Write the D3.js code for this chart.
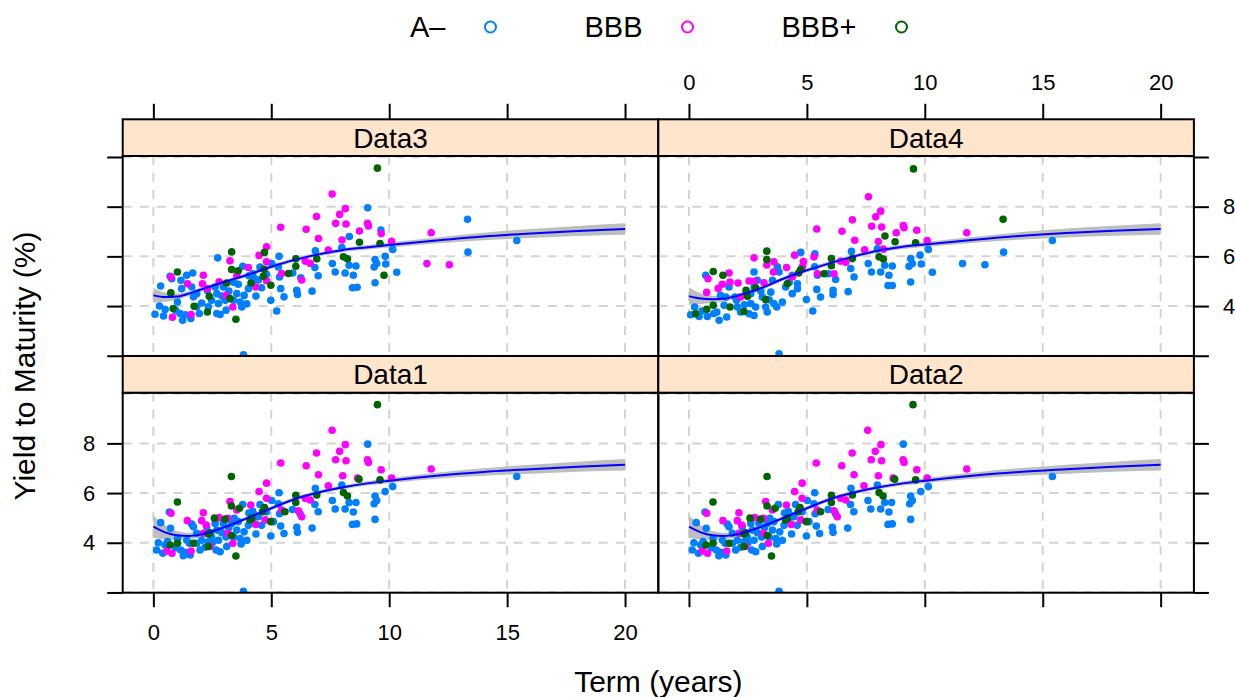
<!DOCTYPE html>
<html>
<head>
<meta charset="utf-8">
<script src="https://cdn.jsdelivr.net/npm/d3@7"></script>
<style>
  body { margin: 0; background: #fff; }
  text { font-family: "Liberation Sans", Arial, Helvetica, sans-serif; fill: #000; }
</style>
</head>
<body>
<svg id="chart" width="1235" height="697"></svg>
<script>
// ---- data: [term (years), yield (%)] ----
var groups = ["A\u2013", "BBB", "BBB+"];
var groupColors = ["#0080ff", "#ff00ff", "#006400"];

var data12_A = [[9.09,7.97],[3.82,2.05],[0.68,5.24],[0.31,4.81],[0.73,4.58],[1.63,4.75],[1.70,4.64],[1.42,4.10],[1.02,4.17],[0.21,4.00],[0.14,3.71],[0.40,3.58],[0.50,3.91],[1.27,3.48],[1.16,3.71],[1.56,3.51],[1.98,3.71],[1.84,3.98],[2.05,4.10],[2.26,4.64],[2.47,4.23],[2.69,4.51],[2.76,4.10],[2.66,3.71],[2.83,3.64],[3.11,3.85],[3.08,4.23],[3.54,4.51],[3.68,4.17],[3.72,3.95],[3.96,4.10],[3.85,4.44],[3.79,5.54],[4.21,5.27],[4.24,5.01],[4.03,4.70],[4.35,4.35],[4.59,4.70],[4.98,4.27],[5.02,5.70],[5.33,6.01],[5.30,5.57],[5.35,5.17],[5.40,4.67],[5.54,4.37],[6.08,4.62],[6.11,4.42],[5.90,5.34],[6.22,5.17],[6.73,4.59],[6.99,5.25],[6.85,5.54],[6.87,6.19],[7.59,5.70],[7.71,5.36],[7.99,6.32],[8.13,5.36],[8.30,5.62],[8.48,5.24],[8.59,5.62],[8.44,4.74],[8.62,4.76],[9.40,5.88],[9.47,5.70],[9.36,5.57],[9.40,4.94],[9.83,6.06],[10.15,6.26],[15.41,6.67],[1.84,4.38],[1.53,3.98],[2.33,4.04],[3.32,4.78],[3.43,4.98],[4.31,5.11],[5.09,4.85],[4.52,5.54],[2.97,4.78],[2.62,4.78],[3.40,4.23],[2.19,3.82],[2.50,4.00],[0.95,3.80],[1.35,3.62],[2.90,4.40],[3.20,4.60],[3.60,4.85],[4.05,5.20],[4.45,5.05],[4.80,5.25],[0.60,4.05]];
var data12_BBB = [[7.58,8.53],[8.14,7.95],[7.90,7.68],[7.73,7.34],[8.17,7.30],[6.92,7.61],[9.08,7.34],[9.12,7.23],[5.40,7.21],[6.48,7.10],[7.00,6.74],[8.03,6.70],[8.66,6.60],[9.66,6.94],[4.80,6.40],[4.48,6.06],[4.80,5.79],[7.42,6.29],[6.44,5.79],[6.65,5.72],[3.25,5.66],[3.54,5.32],[4.13,5.52],[2.12,5.21],[2.05,4.89],[1.44,4.89],[0.75,5.19],[2.79,5.01],[3.16,4.98],[4.34,4.74],[5.44,5.32],[6.15,5.29],[6.29,5.05],[4.74,4.92],[2.24,4.71],[3.16,4.38],[2.12,4.38],[3.37,3.98],[2.40,3.85],[1.60,3.67],[0.79,3.58],[0.57,3.67],[10.10,6.60],[11.78,6.97]];
var data12_BBBp = [[9.50,9.56],[3.31,6.67],[1.02,5.64],[3.31,5.48],[3.65,5.39],[2.59,4.99],[3.04,4.95],[2.40,4.40],[2.33,4.35],[3.32,4.29],[1.70,3.98],[0.71,3.91],[1.02,3.98],[2.33,3.85],[3.50,3.47],[4.71,5.42],[4.63,5.25],[4.17,4.99],[4.98,4.85],[6.04,5.91],[6.04,5.62],[6.93,5.92],[8.06,6.02],[8.23,5.88],[8.72,6.56],[9.61,6.53],[5.58,5.25],[4.10,4.92]];

var data3_A = [[9.09,7.96],[3.82,2.04],[2.73,5.94],[0.71,5.20],[0.31,4.81],[0.78,5.10],[1.17,5.04],[1.41,5.24],[1.67,5.33],[1.20,4.70],[1.63,4.77],[1.70,4.37],[1.02,4.16],[0.26,4.00],[0.07,3.67],[0.43,3.60],[0.50,3.86],[1.24,3.43],[1.13,3.70],[1.59,3.50],[1.95,3.70],[1.84,3.97],[2.05,4.12],[2.29,4.63],[2.47,4.23],[2.69,4.50],[2.76,4.10],[2.69,3.70],[2.83,3.66],[3.08,3.83],[3.05,4.23],[3.54,4.50],[3.68,4.16],[3.75,3.96],[3.96,4.09],[3.85,4.43],[3.79,5.60],[4.21,5.30],[4.24,5.04],[4.03,4.70],[4.35,4.40],[4.59,4.74],[4.98,4.23],[5.02,5.71],[5.33,6.00],[5.30,5.57],[5.35,5.17],[5.40,4.70],[5.54,4.37],[5.23,3.80],[6.08,4.63],[6.11,4.47],[5.91,5.33],[6.25,5.14],[6.73,4.60],[6.99,5.22],[6.85,5.55],[6.87,6.22],[7.59,5.71],[7.71,5.37],[7.99,6.36],[8.13,5.33],[8.30,5.64],[8.48,5.24],[8.59,5.61],[8.44,4.74],[8.64,4.76],[9.40,5.87],[9.47,5.71],[9.36,5.57],[9.40,4.94],[9.83,6.00],[9.65,7.06],[8.31,6.80],[1.84,4.50],[2.33,3.97],[3.40,4.96],[4.31,5.10],[4.52,5.57],[2.97,4.77],[2.62,4.77],[3.40,4.23],[10.15,6.28],[9.85,5.69],[10.32,5.36],[13.32,7.49],[13.34,6.17],[15.41,6.64],[0.95,3.82],[1.35,3.65],[2.90,4.40],[3.20,4.60],[3.60,4.88],[4.05,5.22],[4.45,5.05],[4.80,5.28]];
var data3_BBB = [[7.58,8.51],[8.14,7.92],[7.90,7.69],[7.73,7.33],[8.17,7.30],[6.92,7.60],[9.08,7.33],[9.12,7.22],[5.40,7.17],[6.48,7.09],[7.00,6.72],[8.00,6.66],[8.74,7.02],[9.66,6.92],[4.80,6.39],[4.48,6.04],[4.80,5.78],[7.42,6.25],[6.65,5.72],[6.44,5.81],[3.25,5.82],[4.03,5.55],[3.54,5.24],[2.12,5.24],[2.08,4.90],[1.45,4.90],[0.75,5.17],[2.79,4.98],[5.44,5.31],[6.29,5.05],[4.80,5.02],[4.34,4.77],[2.29,4.70],[3.08,4.43],[3.37,3.96],[1.60,3.66],[0.81,3.55],[10.10,6.61],[11.78,6.95],[11.60,5.71],[12.55,5.66]];
var data3_BBBp = [[9.50,9.55],[3.32,6.18],[4.71,6.16],[1.02,5.37],[3.32,5.47],[3.60,5.42],[3.11,4.93],[0.74,4.53],[2.37,4.39],[3.25,4.30],[1.73,3.99],[0.84,3.90],[2.29,3.76],[3.50,3.47],[4.69,5.48],[4.66,5.20],[4.14,4.93],[4.98,4.84],[6.04,5.90],[6.04,5.60],[6.93,5.90],[5.73,5.31],[8.06,5.98],[8.23,5.90],[8.74,6.57],[9.61,6.52],[9.78,5.24]];

var data4_A = [[3.82,2.08],[4.74,6.16],[0.71,5.24],[0.07,3.65],[0.43,3.58],[0.24,3.96],[0.78,3.58],[1.28,3.43],[1.18,3.76],[1.60,3.56],[1.49,4.03],[1.34,4.43],[1.70,4.77],[1.56,4.36],[1.95,4.36],[2.05,3.96],[2.19,3.76],[2.02,4.23],[2.62,4.10],[2.55,3.69],[2.76,3.62],[2.83,3.96],[2.62,4.50],[2.76,4.77],[2.90,5.04],[2.76,5.37],[3.11,4.36],[3.25,3.96],[3.32,3.76],[3.60,4.10],[3.72,3.96],[3.96,4.16],[3.47,4.56],[3.54,5.04],[3.75,5.58],[3.82,5.37],[4.10,4.77],[4.38,4.50],[4.60,4.90],[4.60,4.70],[4.38,5.24],[4.98,4.26],[5.25,3.80],[5.34,6.10],[5.33,5.58],[5.45,5.24],[5.42,4.67],[5.58,4.36],[6.11,4.63],[6.11,4.47],[5.91,5.30],[6.22,5.07],[6.75,4.58],[7.00,5.17],[6.86,5.51],[6.89,6.20],[7.60,5.71],[7.74,5.37],[7.99,6.30],[8.13,5.37],[8.30,5.64],[8.48,5.24],[8.62,5.61],[8.44,4.83],[8.62,4.83],[9.40,5.91],[9.47,5.71],[9.33,5.60],[9.40,4.97],[9.80,6.05],[10.15,6.28],[9.85,5.69],[10.32,5.36],[11.60,5.71],[12.55,5.66],[13.34,6.17],[15.41,6.64],[0.55,3.80],[1.05,3.70],[2.35,4.05],[3.05,4.60],[3.40,4.25],[4.25,4.95]];
var data4_BBB = [[7.61,8.40],[8.13,7.82],[7.92,7.59],[7.75,7.21],[8.17,7.18],[6.93,7.47],[9.12,7.15],[9.09,7.24],[5.42,7.10],[6.49,7.01],[7.03,6.65],[8.03,6.60],[8.79,6.95],[9.66,7.05],[2.76,5.94],[4.48,6.05],[4.85,5.79],[5.30,5.98],[7.45,6.26],[6.65,5.76],[6.43,5.81],[3.30,5.65],[3.60,5.78],[4.14,5.55],[3.58,5.37],[1.70,5.33],[1.74,4.97],[1.41,4.88],[2.08,4.93],[1.24,4.71],[0.81,5.10],[0.75,4.55],[2.55,5.01],[3.18,4.94],[5.45,5.30],[6.15,5.30],[4.38,5.17],[4.81,5.58],[2.19,4.36],[2.76,5.00],[8.24,6.29],[10.10,6.64],[11.78,6.95]];
var data4_BBBp = [[9.52,9.52],[3.30,6.21],[3.30,5.87],[1.03,5.39],[1.44,5.24],[2.83,4.74],[2.42,4.63],[4.74,5.47],[4.65,5.33],[4.17,4.90],[3.25,4.26],[1.74,3.96],[1.03,4.03],[0.75,3.87],[0.28,3.69],[2.33,3.78],[2.48,4.39],[6.04,5.91],[6.04,5.62],[6.93,5.91],[5.73,5.30],[8.31,6.82],[8.06,5.98],[8.24,5.89],[8.74,6.59],[9.61,6.55],[13.32,7.49]];

// smoother (fit and half-width of band)
var smoothTerms = [0, 0.5, 1, 1.5, 2, 3, 4, 5, 6, 7, 8, 9, 10, 12, 14, 16, 18, 20];
var fit12  = [4.65, 4.42, 4.30, 4.27, 4.33, 4.62, 5.00, 5.39, 5.76, 6.02, 6.22, 6.38, 6.50, 6.70, 6.85, 6.96, 7.06, 7.14];
var band12 = [0.45, 0.28, 0.17, 0.13, 0.11, 0.09, 0.08, 0.08, 0.08, 0.08, 0.08, 0.09, 0.10, 0.12, 0.15, 0.18, 0.20, 0.23];
var fit3   = [4.43, 4.36, 4.38, 4.50, 4.66, 4.97, 5.26, 5.58, 5.86, 6.08, 6.25, 6.36, 6.46, 6.64, 6.80, 6.92, 7.02, 7.10];
var band3  = [0.30, 0.19, 0.13, 0.10, 0.09, 0.08, 0.08, 0.08, 0.08, 0.08, 0.08, 0.09, 0.10, 0.12, 0.15, 0.18, 0.20, 0.23];
var fit4   = [4.40, 4.30, 4.27, 4.30, 4.40, 4.70, 5.10, 5.44, 5.73, 6.00, 6.23, 6.38, 6.48, 6.66, 6.82, 6.94, 7.03, 7.10];
var band4  = [0.35, 0.22, 0.15, 0.12, 0.10, 0.09, 0.08, 0.08, 0.08, 0.08, 0.08, 0.09, 0.10, 0.12, 0.15, 0.18, 0.20, 0.23];

var xTicks = [0, 5, 10, 15, 20];
var yTicks = [2, 4, 6, 8, 10];
var yLabelled = [4, 6, 8];

// ---- layout ----
var svg = d3.select("#chart");
var left0 = 122.7, panelW = 535.6, panelH = 200, stripH = 36.7;
var stripTops = [119.3, 356];
var xLim = [-1.3, 21.41], yLim = [1.99, 10.04];

var x = d3.scaleLinear().domain(xLim).range([0, panelW]);
var y = d3.scaleLinear().domain(yLim).range([panelH, 0]);

var panels = [
  {name: "Data3", col: 0, row: 0, pts: [data3_A, data3_BBB, data3_BBBp], fit: fit3, band: band3},
  {name: "Data4", col: 1, row: 0, pts: [data4_A, data4_BBB, data4_BBBp], fit: fit4, band: band4},
  {name: "Data1", col: 0, row: 1, pts: [data12_A, data12_BBB, data12_BBBp], fit: fit12, band: band12},
  {name: "Data2", col: 1, row: 1, pts: [data12_A, data12_BBB, data12_BBBp], fit: fit12, band: band12}
];

var line = d3.line()
    .x(function(d) { return x(d[0]); })
    .y(function(d) { return y(d[1]); })
    .curve(d3.curveMonotoneX);
var area = d3.area()
    .x(function(d) { return x(d[0]); })
    .y0(function(d) { return y(d[1] - d[2]); })
    .y1(function(d) { return y(d[1] + d[2]); })
    .curve(d3.curveMonotoneX);

function styleAxis(sel) {
  sel.select(".domain").remove();
  sel.selectAll(".tick line").attr("stroke", "#000").attr("stroke-width", 2);
  sel.selectAll(".tick text").style("font-size", "22px").attr("fill", "#000")
    .style("font-family", "'Liberation Sans', Arial, sans-serif");
}

panels.forEach(function(p, i) {
  var px = left0 + p.col * panelW;
  var sy = stripTops[p.row];
  var py = sy + stripH;

  var g = svg.append("g").attr("transform", "translate(" + px + "," + py + ")");

  g.append("clipPath").attr("id", "clip" + i)
    .append("rect").attr("width", panelW).attr("height", panelH);
  var inner = g.append("g").attr("clip-path", "url(#clip" + i + ")");

  // grid
  inner.selectAll(".vgrid").data(xTicks).enter().append("line")
      .attr("x1", x).attr("x2", x).attr("y1", 0).attr("y2", panelH)
      .attr("stroke", "#d3d3d3").attr("stroke-width", 2).attr("stroke-dasharray", "9,8");
  inner.selectAll(".hgrid").data(yTicks).enter().append("line")
      .attr("y1", y).attr("y2", y).attr("x1", 0).attr("x2", panelW)
      .attr("stroke", "#d3d3d3").attr("stroke-width", 2).attr("stroke-dasharray", "9,8");

  var sm = smoothTerms.map(function(t, k) { return [t, p.fit[k], p.band[k]]; });

  inner.append("path").datum(sm)
      .attr("d", area)
      .attr("fill", "#bebebe");

  p.pts.forEach(function(arr, gi) {
    inner.append("g").selectAll("circle")
      .data(arr)
      .enter().append("circle")
        .attr("cx", function(d) { return x(d[0]); })
        .attr("cy", function(d) { return y(d[1]); })
        .attr("r", 3.8)
        .attr("fill", groupColors[gi]);
  });

  inner.append("path").datum(sm)
      .attr("d", line)
      .attr("fill", "none")
      .attr("stroke", "#0000ff")
      .attr("stroke-width", 2);

  g.append("rect").attr("width", panelW).attr("height", panelH)
      .attr("fill", "none").attr("stroke", "#000").attr("stroke-width", 2);

  // strip
  svg.append("rect")
      .attr("x", px).attr("y", sy).attr("width", panelW).attr("height", stripH)
      .attr("fill", "#ffe5cc").attr("stroke", "#000").attr("stroke-width", 2);
  svg.append("text")
      .attr("x", px + panelW / 2).attr("y", sy + stripH / 2 + 10)
      .attr("text-anchor", "middle")
      .style("font-size", "28px")
      .text(p.name);

  // axes on the outer sides only
  if (p.row === 1) {
    svg.append("g").attr("transform", "translate(" + px + "," + (py + panelH) + ")")
      .call(d3.axisBottom(x).tickValues(xTicks).tickSize(14.5).tickPadding(17)
        .tickFormat(function(d) { return p.col === 0 ? d : ""; }))
      .call(styleAxis);
  }
  if (p.row === 0) {
    svg.append("g").attr("transform", "translate(" + px + "," + sy + ")")
      .call(d3.axisTop(x).tickValues(xTicks).tickSize(15.5).tickPadding(14)
        .tickFormat(function(d) { return p.col === 1 ? d : ""; }))
      .call(styleAxis);
  }
  if (p.col === 0) {
    svg.append("g").attr("transform", "translate(" + px + "," + py + ")")
      .call(d3.axisLeft(y).tickValues(p.row === 0 ? yTicks : yTicks.slice(0, 4)).tickSize(15.5).tickPadding(12)
        .tickFormat(function(d) { return p.row === 1 && yLabelled.indexOf(d) >= 0 ? d : ""; }))
      .call(styleAxis);
  }
  if (p.col === 1) {
    svg.append("g").attr("transform", "translate(" + (px + panelW) + "," + py + ")")
      .call(d3.axisRight(y).tickValues(p.row === 0 ? yTicks : yTicks.slice(0, 4)).tickSize(15).tickPadding(14)
        .tickFormat(function(d) { return p.row === 0 && yLabelled.indexOf(d) >= 0 ? d : ""; }))
      .call(styleAxis);
  }
});

// axis titles
svg.append("text")
    .attr("x", left0 + panelW).attr("y", 692)
    .attr("text-anchor", "middle")
    .style("font-size", "30px")
    .text("Term (years)");
svg.append("text")
    .attr("transform", "translate(35," + 366 + ") rotate(-90)")
    .attr("text-anchor", "middle")
    .style("font-size", "30px")
    .text("Yield to Maturity (%)");

// legend
var legend = svg.append("g").attr("class", "legend");
var lx = 410;
groups.forEach(function(name, gi) {
  var t = legend.append("text")
      .attr("x", lx).attr("y", 37)
      .style("font-size", "29px")
      .text(name);
  var w = t.node().getComputedTextLength();
  var cx = lx + w + 45;
  legend.append("circle")
      .attr("cx", cx).attr("cy", 27).attr("r", 5.5)
      .attr("fill", "none").attr("stroke", groupColors[gi]).attr("stroke-width", 2);
  lx = cx + 94;
});
</script>
</body>
</html>
